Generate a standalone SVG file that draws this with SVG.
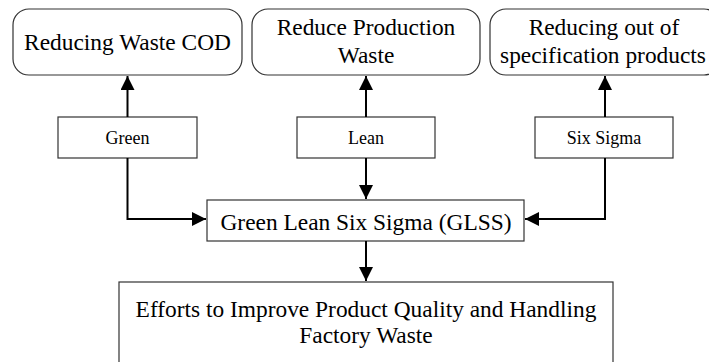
<svg xmlns="http://www.w3.org/2000/svg" width="709" height="362" viewBox="0 0 709 362">
  <style>
    .box { fill: #ffffff; stroke: #333333; stroke-width: 1.2; }
    .t { font-family: "Liberation Serif", "Times New Roman", serif; fill: #000000; text-anchor: middle; }
    .big { font-size: 23.4px; }
    .small { font-size: 18px; }
    .conn { fill: none; stroke: #000000; stroke-width: 2; }
  </style>
  <defs>
    <marker id="arrow" viewBox="0 0 10 10" refX="10" refY="5" markerWidth="7" markerHeight="7" markerUnits="strokeWidth" orient="auto">
      <path d="M0,0 L10,5 L0,10 Z" fill="#000000"/>
    </marker>
  </defs>

  <rect width="709" height="362" fill="#ffffff"/>

  <!-- Outcomes -->
  <g id="cod">
    <rect class="box" x="13" y="9" width="229" height="66" rx="16" ry="16"/>
    <text class="t big" x="127.5" y="50">Reducing Waste COD</text>
  </g>
  <g id="production-waste">
    <rect class="box" x="252" y="9" width="228" height="66" rx="16" ry="16"/>
    <text class="t big" x="366" y="35">Reduce Production</text>
    <text class="t big" x="366" y="63">Waste</text>
  </g>
  <g id="out-of-spec">
    <rect class="box" x="490" y="9" width="230" height="66" rx="16" ry="16"/>
    <text class="t big" x="604" y="35">Reducing out of</text>
    <text class="t big" x="603" y="63">specification products</text>
  </g>

  <!-- Methods -->
  <g id="green">
    <rect class="box" x="58" y="117" width="139" height="41"/>
    <text class="t small" x="127.5" y="144">Green</text>
  </g>
  <g id="lean">
    <rect class="box" x="297" y="117" width="138" height="41"/>
    <text class="t small" x="366" y="144">Lean</text>
  </g>
  <g id="six-sigma">
    <rect class="box" x="535" y="117" width="138" height="41"/>
    <text class="t small" x="604" y="144">Six Sigma</text>
  </g>

  <!-- Integrated approach -->
  <g id="glss">
    <rect class="box" x="207" y="200" width="317" height="41"/>
    <text class="t big" x="366" y="230">Green Lean Six Sigma (GLSS)</text>
  </g>

  <!-- Goal -->
  <g id="goal">
    <rect class="box" x="119" y="282" width="494" height="100"/>
    <text class="t big" x="366" y="317">Efforts to Improve Product Quality and Handling</text>
    <text class="t big" x="366" y="343">Factory Waste</text>
  </g>

  <!-- Connectors -->
  <g id="connectors">
    <line class="conn" x1="127.5" y1="117" x2="127.5" y2="76" marker-end="url(#arrow)"/>
    <line class="conn" x1="366" y1="117" x2="366" y2="76" marker-end="url(#arrow)"/>
    <line class="conn" x1="605" y1="117" x2="605" y2="76" marker-end="url(#arrow)"/>
    <line class="conn" x1="366" y1="158" x2="366" y2="199" marker-end="url(#arrow)"/>
    <polyline class="conn" points="127.5,158 127.5,219 206,219" marker-end="url(#arrow)"/>
    <polyline class="conn" points="605,158 605,219 525,219" marker-end="url(#arrow)"/>
    <line class="conn" x1="366" y1="241" x2="366" y2="281" marker-end="url(#arrow)"/>
  </g>
</svg>
